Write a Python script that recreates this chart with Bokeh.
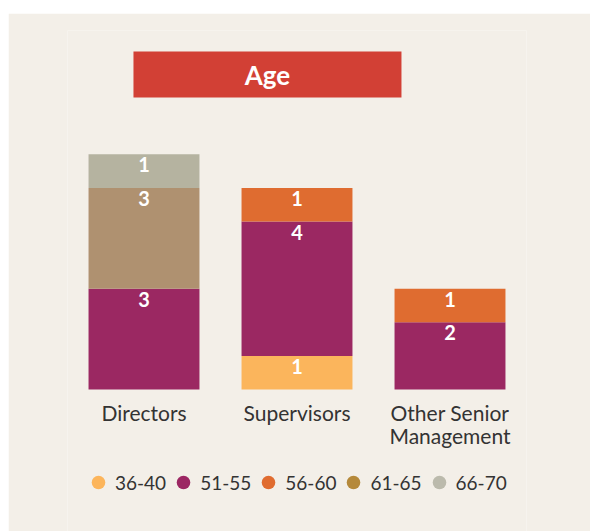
from bokeh.plotting import figure
from bokeh.models import ColumnDataSource, FactorRange, Range1d, Legend, LegendItem, Spacer
from bokeh.layouts import column, row
from bokeh.core.properties import value
from bokeh.embed import file_html
from bokeh.resources import INLINE

# ---- data ----
categories = ["Directors", "Supervisors", "Other Senior\nManagement"]
age_groups = ["36-40", "51-55", "56-60", "61-65", "66-70"]
age_36_40 = [0, 1, 0]
age_51_55 = [3, 4, 2]
age_56_60 = [0, 1, 1]
age_61_65 = [3, 0, 0]
age_66_70 = [1, 0, 0]
title_text = "Age"

# ---- styles ----
bar_colors = ["#FBB55C", "#9B2862", "#DF6C30", "#AF9170", "#B5B3A0"]
legend_colors = ["#FCB55B", "#9C2763", "#E06C30", "#B5893A", "#BBBAAC"]
BG = "#F3EFE8"
FONT = "Lato"

series = [age_36_40, age_51_55, age_56_60, age_61_65, age_66_70]
data = {"cat": categories}
for g, s in zip(age_groups, series):
    data[g] = s
source = ColumnDataSource(data)

p = figure(
    x_range=FactorRange(*categories, range_padding=0),
    y_range=Range1d(-4.226, 10.685),
    width=582, height=518,
    output_backend="svg", toolbar_location=None,
    x_axis_location=None, y_axis_location=None,
    min_border_left=59, min_border_right=64,
    min_border_top=17, min_border_bottom=0,
)
p.background_fill_color = BG
p.border_fill_color = BG
p.outline_line_color = None
p.grid.visible = False

p.vbar_stack(age_groups, x="cat", width=0.725, color=bar_colors,
             line_color=None, source=source)

# category labels under the bars
p.text(x=categories, y=[0] * len(categories), text=categories,
       text_align="center", text_baseline="top", y_offset=10,
       text_color="#333333", text_font=value(FONT), text_font_size="21px",
       text_line_height=0.95)

# value labels near top of each segment
lx, ly, lt = [], [], []
for i, c in enumerate(categories):
    cum = 0
    for s in series:
        v = s[i]
        cum += v
        if v > 0:
            lx.append(c)
            ly.append(cum)
            lt.append(str(v))
p.text(x=lx, y=ly, text=lt, text_align="center", text_baseline="top",
       y_offset=3, text_color="white", text_font=value(FONT),
       text_font_size="20px", text_font_style="bold")

# title box
p.rect(x=[1.307], y=[9.375], width=268, height=46, width_units="screen",
       height_units="screen", fill_color="#D24035", line_color=None)
p.text(x=[1.307], y=[9.375], text=[title_text], text_align="center",
       text_baseline="middle", text_color="white", text_font=value(FONT),
       text_font_size="26px", text_font_style="bold")

# legend
nan = float("nan")
items = []
for g, col in zip(age_groups, legend_colors):
    r = p.scatter(x=[nan], y=[nan], size=15, fill_color=col, line_color=None)
    items.append(LegendItem(label=g, renderers=[r]))
legend = Legend(items=items, orientation="horizontal", location=(14, 32),
                glyph_width=34, glyph_height=34, label_standoff=0, spacing=0,
                label_text_font=FONT, label_text_font_size="19px",
                label_text_color="#333333", background_fill_alpha=0,
                border_line_color=None, padding=0, margin=0)
p.add_layout(legend)

layout = row(Spacer(width=8, height=531),
             column(Spacer(width=582, height=13), p))
open("out.html", "w").write(file_html(layout, INLINE))
